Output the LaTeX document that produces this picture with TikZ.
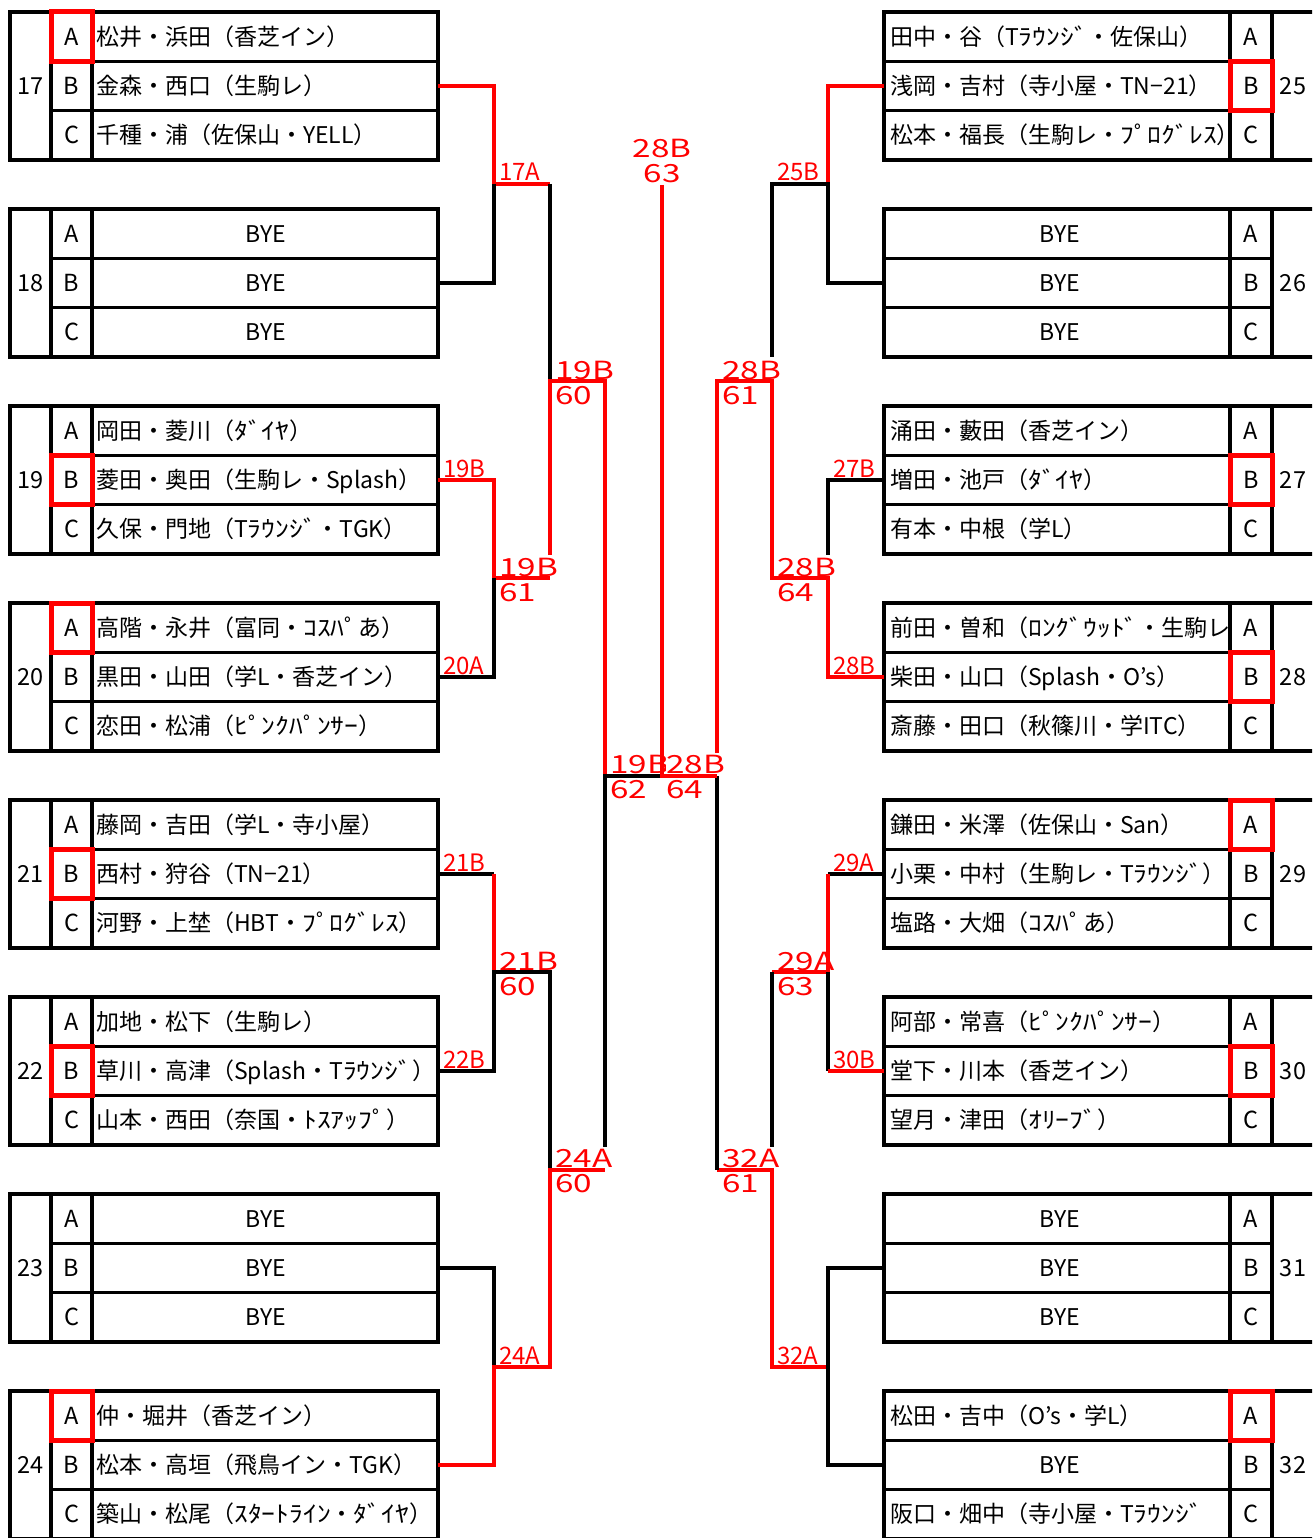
\documentclass[tikz,border=0pt]{standalone}
\usepackage{fontspec}
\usepackage{graphicx}
\setmainfont{Noto Sans CJK JP}
\newcommand\hk[1]{\scalebox{1.2}[1]{#1}}
\newcommand\BYE{\makebox[340pt][c]{BYE}}
\newcommand\Wl[1]{\scalebox{1.33}[1]{#1}}
\begin{document}
\begin{tikzpicture}[x=1pt,y=-1pt,
  box/.style={line width=3.2pt,black},
  hl/.style={draw=red,line width=5pt},
  bk/.style={line width=3.2pt,black},
  rd/.style={line width=3.2pt,red},
  nm/.style={anchor=base west,inner sep=0pt,font=\fontsize{23}{27}\selectfont},
  lt/.style={anchor=base,inner sep=0pt,font=\fontsize{23.5}{27}\selectfont},
  lb/.style={anchor=base west,inner sep=0pt,text=red,font=\fontsize{24}{28}\selectfont},
  lbb/.style={anchor=base west,inner sep=0pt,text=red,font=\fontsize{25}{28}\selectfont},
  lbc/.style={anchor=base,inner sep=0pt,text=red,font=\fontsize{25}{28}\selectfont}]
\useasboundingbox (0,0) rectangle (1312,1538);
\clip (0,0) rectangle (1312,1538);

\newcommand\LRow[4]{%
  \pgfmathsetmacro\Y{\T+49.3*#3}%
  \begin{scope}\clip (92,\Y) rectangle (436.4,\Y+49.3);
  \node[nm] (n#1#2) at (96,\Y+33.1) {#4};\end{scope}
  \node[lt] (l#1#2) at (71.5,\Y+33.1) {#2};}
\newcommand\LBlock[4]{%
  \pgfmathsetmacro\T{12+197*(#1-17)}%
  \draw[box] (10,\T) rectangle (438,\T+148);
  \draw[box] (51,\T) -- (51,\T+148) (92,\T) -- (92,\T+148)
     (51,\T+49.3) -- (438,\T+49.3) (51,\T+98.6) -- (438,\T+98.6);
  \node[lt] (num#1) at (30.5,\T+82.5) {#1};
  \LRow{#1}{A}{0}{#2}\LRow{#1}{B}{1}{#3}\LRow{#1}{C}{2}{#4}}
\newcommand\RRow[4]{%
  \pgfmathsetmacro\Y{\T+49.3*#3}%
  \begin{scope}\clip (885.6,\Y) rectangle (1228.4,\Y+49.3);
  \node[nm] (n#1#2) at (890,\Y+33.1) {#4};\end{scope}
  \node[lt] (l#1#2) at (1251,\Y+33.1) {#2};}
\newcommand\RBlock[4]{%
  \pgfmathsetmacro\T{12+197*(#1-25)}%
  \draw[box] (1320,\T) -- (884,\T) -- (884,\T+148) -- (1320,\T+148);
  \draw[box] (1230,\T) -- (1230,\T+148) (1272,\T) -- (1272,\T+148)
     (884,\T+49.3) -- (1272,\T+49.3) (884,\T+98.6) -- (1272,\T+98.6);
  \node[lt] (num#1) at (1293,\T+82.5) {#1};
  \RRow{#1}{A}{0}{#2}\RRow{#1}{B}{1}{#3}\RRow{#1}{C}{2}{#4}}
\newcommand\LHL[2]{\pgfmathsetmacro\Y{12+197*(#1-17)+49.3*#2}\draw[hl] (51,\Y) rectangle (92,\Y+49.3);}
\newcommand\RHL[2]{\pgfmathsetmacro\Y{12+197*(#1-25)+49.3*#2}\draw[hl] (1230,\Y) rectangle (1272,\Y+49.3);}

% ---------- left blocks
\LBlock{17}{松井・浜田（香芝イン）}{金森・西口（生駒レ）}{千種・浦（佐保山・YELL）}
\LBlock{18}{\BYE}{\BYE}{\BYE}
\LBlock{19}{岡田・菱川（\hk{ﾀﾞｲﾔ}）}{菱田・奥田（生駒レ・Splash）}{久保・門地（T\hk{ﾗｳﾝｼﾞ}・TGK）}
\LBlock{20}{高階・永井（富同・\hk{ｺｽﾊﾟ}あ）}{黒田・山田（学L・香芝イン）}{恋田・松浦（\hk{ﾋﾟﾝｸﾊﾟﾝｻｰ}）}
\LBlock{21}{藤岡・吉田（学L・寺小屋）}{西村・狩谷（TN−21）}{河野・上埜（HBT・\hk{ﾌﾟﾛｸﾞﾚｽ}）}
\LBlock{22}{加地・松下（生駒レ）}{草川・高津（Splash・T\hk{ﾗｳﾝｼﾞ}）}{山本・西田（奈国・\hk{ﾄｽｱｯﾌﾟ}）}
\LBlock{23}{\BYE}{\BYE}{\BYE}
\LBlock{24}{仲・堀井（香芝イン）}{松本・高垣（飛鳥イン・TGK）}{築山・松尾（\hk{ｽﾀｰﾄﾗｲﾝ}・\hk{ﾀﾞｲﾔ}）}
% ---------- right blocks
\RBlock{25}{田中・谷（T\hk{ﾗｳﾝｼﾞ}・佐保山）}{浅岡・吉村（寺小屋・TN−21）}{松本・福長（生駒レ・\hk{ﾌﾟﾛｸﾞﾚｽ}）}
\RBlock{26}{\BYE}{\BYE}{\BYE}
\RBlock{27}{涌田・藪田（香芝イン）}{増田・池戸（\hk{ﾀﾞｲﾔ}）}{有本・中根（学L）}
\RBlock{28}{前田・曽和（\hk{ﾛﾝｸﾞｳｯﾄﾞ}・生駒レ}{柴田・山口（Splash・O’s）}{斎藤・田口（秋篠川・学ITC）}
\RBlock{29}{鎌田・米澤（佐保山・San）}{小栗・中村（生駒レ・T\hk{ﾗｳﾝｼﾞ}）}{塩路・大畑（\hk{ｺｽﾊﾟ}あ）}
\RBlock{30}{阿部・常喜（\hk{ﾋﾟﾝｸﾊﾟﾝｻｰ}）}{堂下・川本（香芝イン）}{望月・津田（\hk{ｵﾘｰﾌﾞ}）}
\RBlock{31}{\BYE}{\BYE}{\BYE}
\RBlock{32}{松田・吉中（O’s・学L）}{\BYE}{阪口・畑中（寺小屋・T\hk{ﾗｳﾝｼﾞ}}

% ---------- highlights
\LHL{17}{0}\LHL{19}{1}\LHL{20}{0}\LHL{21}{1}\LHL{22}{1}\LHL{24}{0}
\RHL{25}{1}\RHL{27}{1}\RHL{28}{1}\RHL{29}{0}\RHL{30}{1}\RHL{32}{0}

% ---------- left connectors
\draw[rd] (438,86) -- (494,86) -- (494,184) -- (550,184);
\draw[bk] (438,283) -- (494,283) -- (494,184);
\draw[bk] (550,184) -- (550,381);
\draw[rd] (438,480) -- (494,480) -- (494,578) -- (550,578);
\draw[bk] (438,677) -- (494,677) -- (494,578);
\draw[rd] (550,555) -- (550,381) -- (605,381) -- (605,776);
\draw[bk] (438,874) -- (494,874);
\draw[rd] (494,874) -- (494,972);
\draw[bk] (438,1071) -- (494,1071) -- (494,972) -- (550,972) -- (550,1170);
\draw[bk] (438,1268) -- (494,1268) -- (494,1367);
\draw[rd] (438,1465) -- (494,1465) -- (494,1367) -- (550,1367) -- (550,1170) -- (605,1170);
\draw[bk] (605,1147) -- (605,776) -- (662,776);

% ---------- right connectors
\draw[rd] (884,86) -- (828,86) -- (828,184);
\draw[bk] (884,283) -- (828,283) -- (828,184) -- (772,184) -- (772,357);
\draw[rd] (717,753) -- (717,381) -- (772,381) -- (772,578) -- (828,578) -- (828,677) -- (884,677);
\draw[bk] (884,480) -- (828,480) -- (828,555);
\draw[bk] (884,874) -- (828,874);
\draw[rd] (828,874) -- (828,972) -- (772,972);
\draw[bk] (828,972) -- (828,1071);
\draw[rd] (884,1071) -- (828,1071);
\draw[bk] (772,972) -- (772,1147);
\draw[rd] (717,1170) -- (772,1170) -- (772,1367) -- (828,1367);
\draw[bk] (884,1268) -- (828,1268) -- (828,1465) -- (884,1465);
\draw[bk] (717,776) -- (717,1170);

% ---------- labels
\node[lb] (t17A) at (499,181) {17A};
\node[lb] (t19B) at (443,477) {19B};
\node[lb] (t20A) at (443,674) {20A};
\node[lb] (t21B) at (443,871) {21B};
\node[lb] (t22B) at (443,1068) {22B};
\node[lb] (t24A) at (499,1364) {24A};
\node[lb] (t25B) at (777,181) {25B};
\node[lb] (t27B) at (833,477) {27B};
\node[lb] (t28B) at (833,674) {28B};
\node[lb] (t29A) at (833,871) {29A};
\node[lb] (t30B) at (833,1068) {30B};
\node[lb] (t32A) at (777,1364) {32A};

\node[lbb] (u60a) at (555,379) {\Wl{19B}};
\node[lbb] (v60a) at (555,404) {\Wl{60}};
\node[lbb] (u61a) at (499,576) {\Wl{19B}};
\node[lbb] (v61a) at (499,601) {\Wl{61}};
\node[lbb] (u60b) at (499,970) {\Wl{21B}};
\node[lbb] (v60b) at (499,995) {\Wl{60}};
\node[lbb] (u60c) at (555,1167) {\Wl{24A}};
\node[lbb] (v60c) at (555,1192) {\Wl{60}};
\node[lbb] (u62) at (610,773) {\Wl{19B}};
\node[lbb] (v62) at (610,798) {\Wl{62}};
\node[lbb,fill=white] (u64c) at (666,773) {\Wl{28B}};
\node[lbb] (v64c) at (666,798) {\Wl{64}};
\node[lbb] (u61b) at (722,379) {\Wl{28B}};
\node[lbb] (v61b) at (722,404) {\Wl{61}};
\node[lbb] (u64b) at (777,576) {\Wl{28B}};
\node[lbb] (v64b) at (777,601) {\Wl{64}};
\node[lbb] (u63b) at (777,970) {\Wl{29A}};
\node[lbb] (v63b) at (777,995) {\Wl{63}};
\node[lbb] (u61c) at (722,1167) {\Wl{32A}};
\node[lbb] (v61c) at (722,1192) {\Wl{61}};
\node[lbc] (u63) at (662,158) {\Wl{28B}};
\node[lbc] (v63) at (662,183) {\Wl{63}};

% ---------- centre line
\draw[rd] (662,185) -- (662,776) -- (717,776);
\end{tikzpicture}
\end{document}
